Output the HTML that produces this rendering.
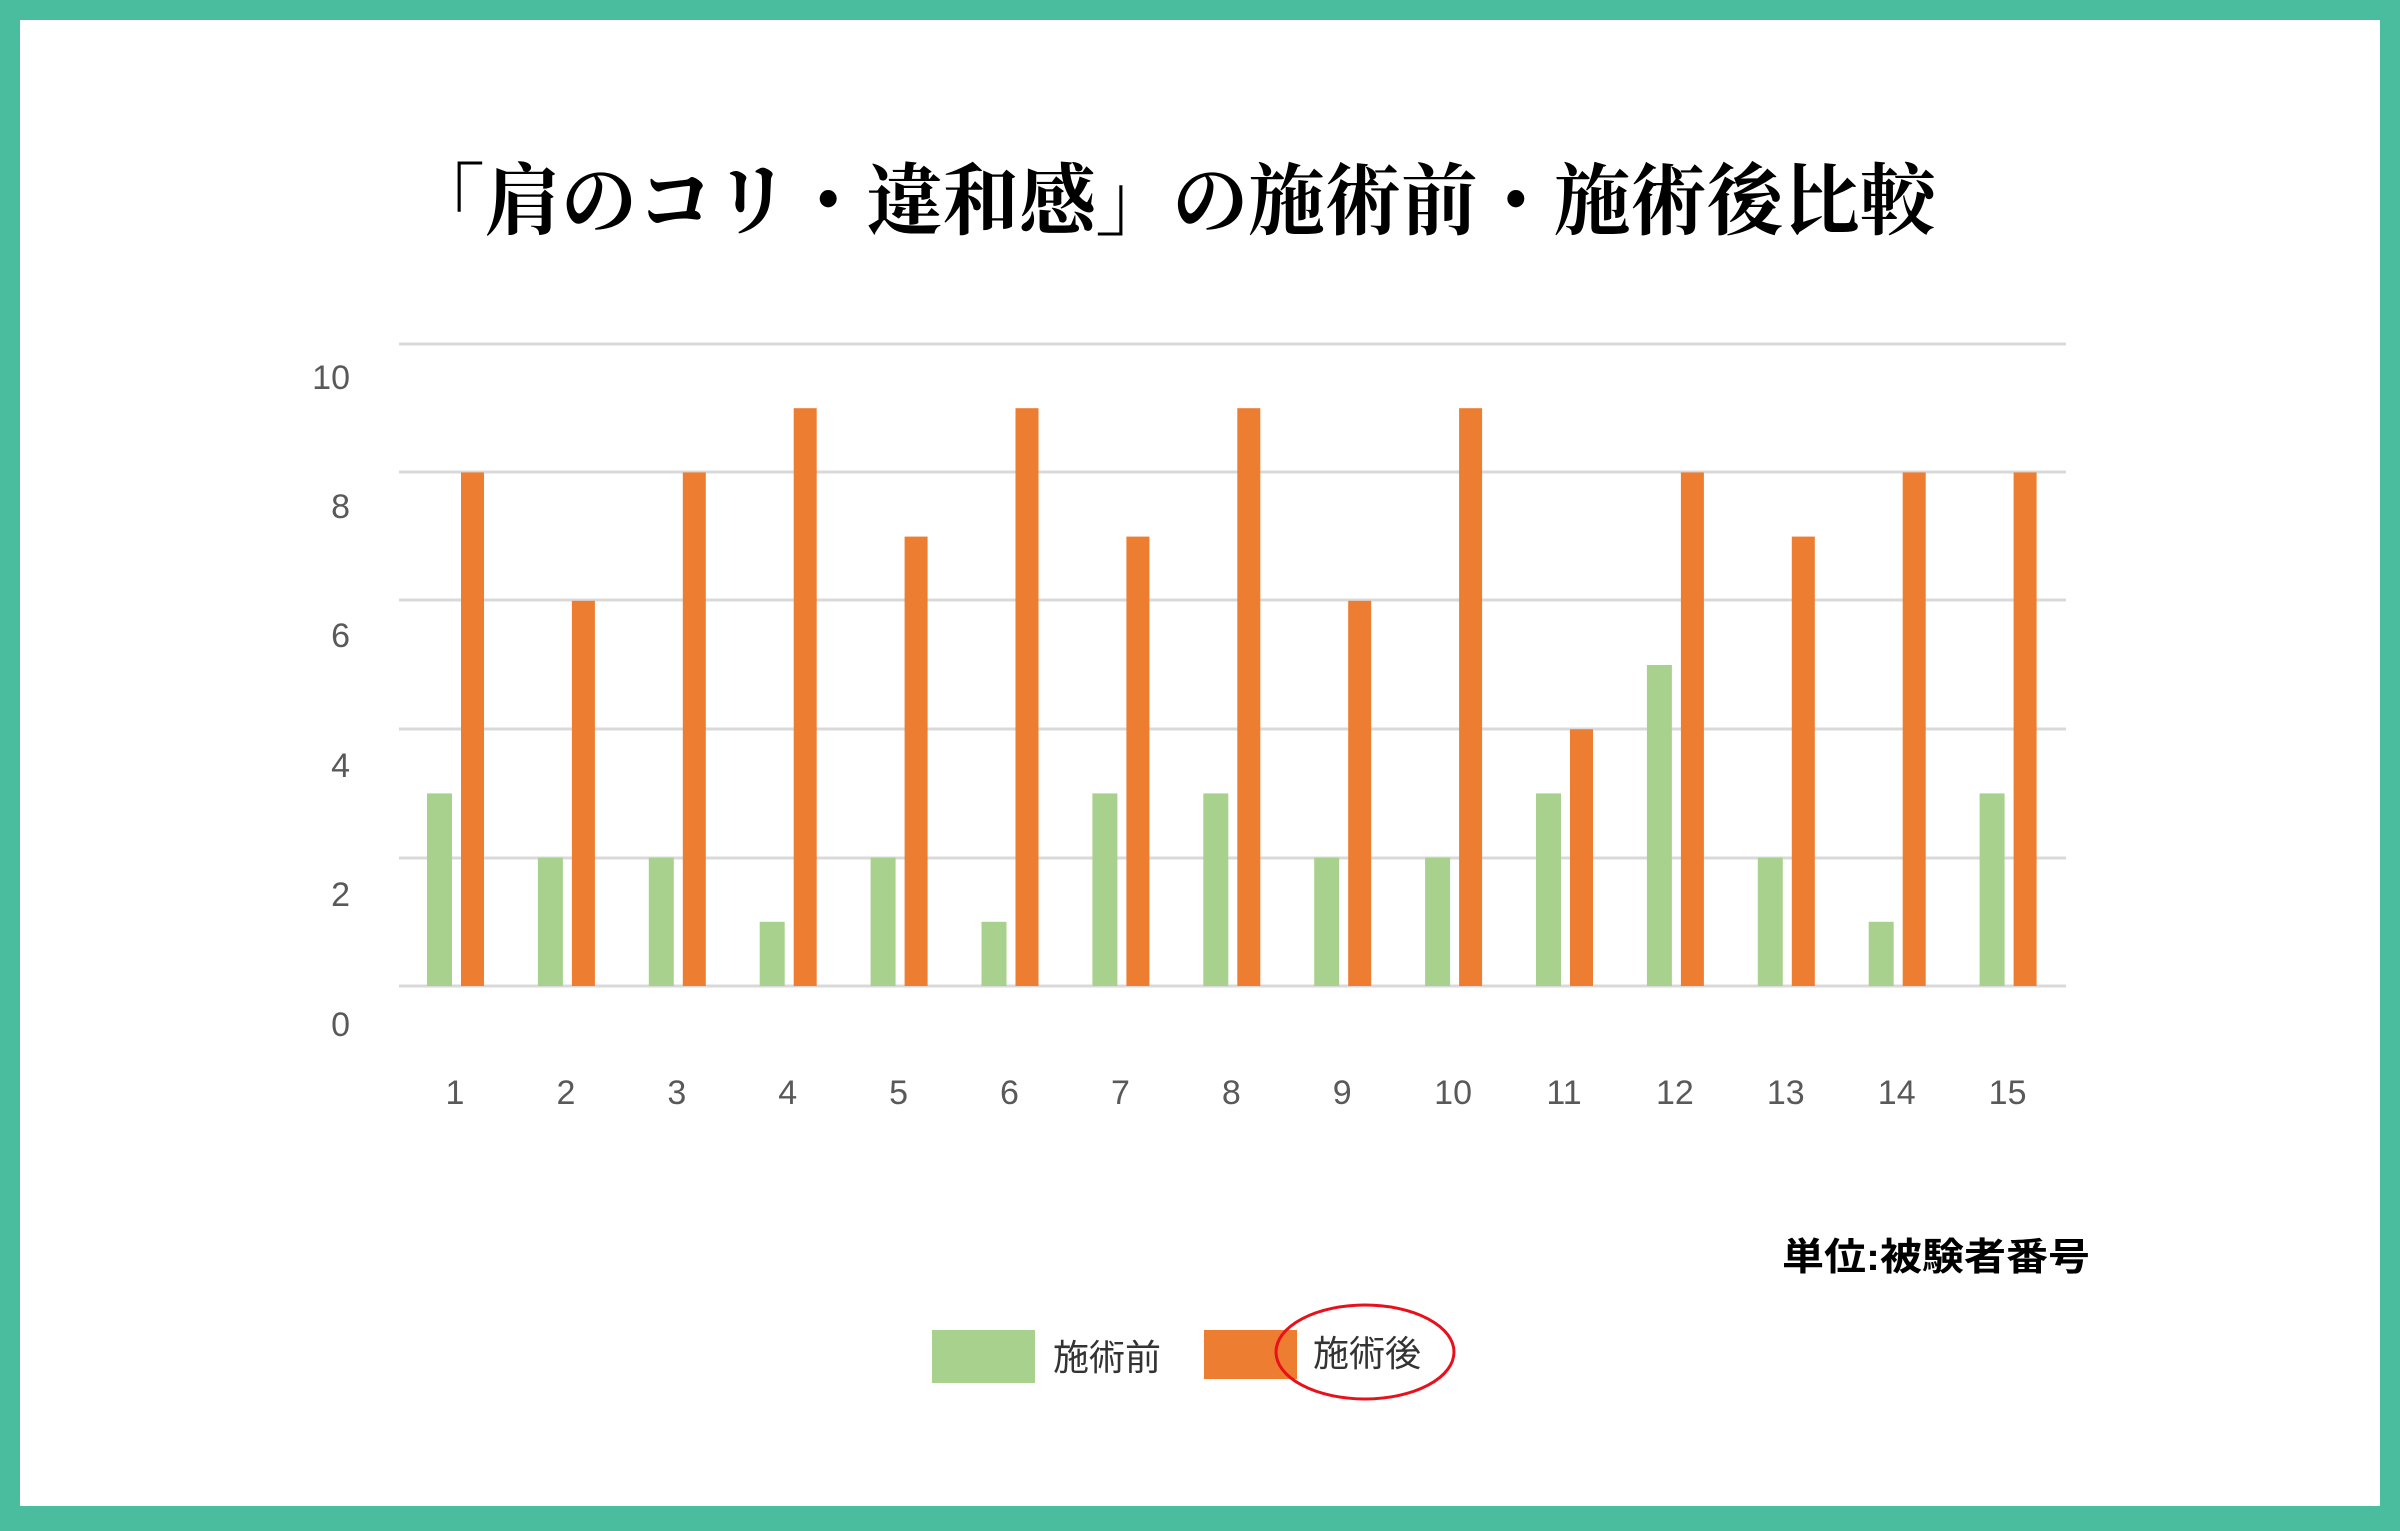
<!DOCTYPE html>
<html><head><meta charset="utf-8"><style>
html,body{margin:0;padding:0;}
body{width:2400px;height:1526px;overflow:hidden;background:#4bbd9f;}
</style></head><body>
<svg width="2400" height="1526" xmlns="http://www.w3.org/2000/svg">
<rect x="0" y="0" width="2400" height="1526" fill="#4bbd9f"/>
<rect x="20" y="20" width="2360" height="1486" fill="#ffffff"/>
<text x="408" y="228" textLength="1528" lengthAdjust="spacingAndGlyphs" font-family="'Liberation Serif','Noto Serif CJK SC',serif" font-weight="bold" font-size="78" fill="#000">「肩のコリ・違和感」の施術前・施術後比較</text>
<g stroke="#d9d9d9" stroke-width="3">
<line x1="399" y1="344" x2="2066" y2="344"/>
<line x1="399" y1="472" x2="2066" y2="472"/>
<line x1="399" y1="600" x2="2066" y2="600"/>
<line x1="399" y1="729" x2="2066" y2="729"/>
<line x1="399" y1="858" x2="2066" y2="858"/>
<line x1="399" y1="986" x2="2066" y2="986"/>
</g>
<g font-family="'Liberation Sans','Noto Sans CJK JP',sans-serif" font-size="34" fill="#595959" text-anchor="end">
<text x="350" y="389">10</text>
<text x="350" y="518">8</text>
<text x="350" y="647">6</text>
<text x="350" y="777">4</text>
<text x="350" y="906">2</text>
<text x="350" y="1036">0</text>
</g>
<g fill="#a9d18e">
<rect x="427" y="793.4" width="25" height="192.6"/>
<rect x="537.9" y="857.6" width="25" height="128.4"/>
<rect x="648.8" y="857.6" width="25" height="128.4"/>
<rect x="759.7" y="921.8" width="25" height="64.2"/>
<rect x="870.6" y="857.6" width="25" height="128.4"/>
<rect x="981.5" y="921.8" width="25" height="64.2"/>
<rect x="1092.4" y="793.4" width="25" height="192.6"/>
<rect x="1203.3" y="793.4" width="25" height="192.6"/>
<rect x="1314.2" y="857.6" width="25" height="128.4"/>
<rect x="1425.1" y="857.6" width="25" height="128.4"/>
<rect x="1536" y="793.4" width="25" height="192.6"/>
<rect x="1646.9" y="665" width="25" height="321"/>
<rect x="1757.8" y="857.6" width="25" height="128.4"/>
<rect x="1868.7" y="921.8" width="25" height="64.2"/>
<rect x="1979.6" y="793.4" width="25" height="192.6"/>
</g>
<g fill="#ed7d31">
<rect x="461" y="472.4" width="23" height="513.6"/>
<rect x="571.9" y="600.8" width="23" height="385.2"/>
<rect x="682.8" y="472.4" width="23" height="513.6"/>
<rect x="793.7" y="408.2" width="23" height="577.8"/>
<rect x="904.6" y="536.6" width="23" height="449.4"/>
<rect x="1015.5" y="408.2" width="23" height="577.8"/>
<rect x="1126.4" y="536.6" width="23" height="449.4"/>
<rect x="1237.3" y="408.2" width="23" height="577.8"/>
<rect x="1348.2" y="600.8" width="23" height="385.2"/>
<rect x="1459.1" y="408.2" width="23" height="577.8"/>
<rect x="1570" y="729.2" width="23" height="256.8"/>
<rect x="1680.9" y="472.4" width="23" height="513.6"/>
<rect x="1791.8" y="536.6" width="23" height="449.4"/>
<rect x="1902.7" y="472.4" width="23" height="513.6"/>
<rect x="2013.6" y="472.4" width="23" height="513.6"/>
</g>
<g font-family="'Liberation Sans','Noto Sans CJK JP',sans-serif" font-size="34" fill="#595959" text-anchor="middle">
<text x="455" y="1104">1</text>
<text x="565.9" y="1104">2</text>
<text x="676.8" y="1104">3</text>
<text x="787.7" y="1104">4</text>
<text x="898.6" y="1104">5</text>
<text x="1009.5" y="1104">6</text>
<text x="1120.4" y="1104">7</text>
<text x="1231.3" y="1104">8</text>
<text x="1342.2" y="1104">9</text>
<text x="1453.1" y="1104">10</text>
<text x="1564" y="1104">11</text>
<text x="1674.9" y="1104">12</text>
<text x="1785.8" y="1104">13</text>
<text x="1896.7" y="1104">14</text>
<text x="2007.6" y="1104">15</text>
</g>
<text x="1782" y="1270" textLength="308" lengthAdjust="spacingAndGlyphs" font-family="'Liberation Sans','Noto Sans CJK JP',sans-serif" font-weight="bold" font-size="38" fill="#000">単位:被験者番号</text>
<rect x="932" y="1330" width="103" height="53" fill="#a9d18e"/>
<text x="1053" y="1370" font-family="'Liberation Sans','Noto Sans CJK JP',sans-serif" font-size="36" fill="#333">施術前</text>
<rect x="1204" y="1330" width="93" height="49" fill="#ed7d31"/>
<text x="1313" y="1366" font-family="'Liberation Sans','Noto Sans CJK JP',sans-serif" font-size="36" fill="#333">施術後</text>
<ellipse cx="1365" cy="1352" rx="89" ry="47" fill="none" stroke="#e8101a" stroke-width="3"/>
</svg>
</body></html>
